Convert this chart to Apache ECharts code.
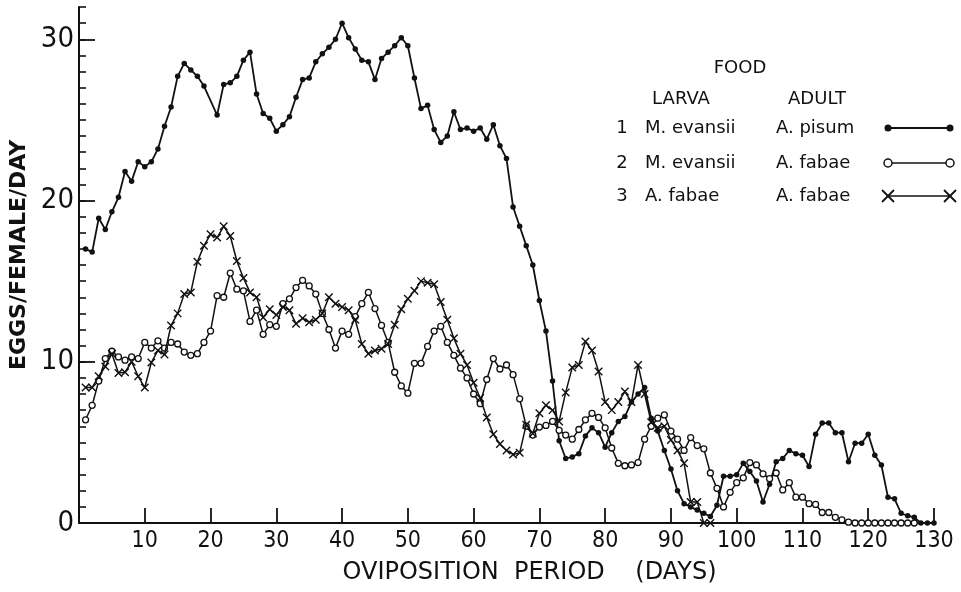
<!DOCTYPE html>
<html><head><meta charset="utf-8">
<script src="https://cdn.jsdelivr.net/npm/echarts@6/dist/echarts.min.js"></script>
<style>html,body{margin:0;padding:0;background:#fff}#c{width:961px;height:592px}</style>
</head><body><div id="c"></div>
<script>
// ---- data ----
const yLabelValues = [0, 10, 20, 30];
// 1: larva M. evansii, adult A. pisum (filled dots)
const s1Days = [1,2,3,4,5,6,7,8,9,10,11,12,13,14,15,16,17,18,19,21,22,23,24,25,26,27,28,29,30,
  31,32,33,34,35,36,37,38,39,40,41,42,43,44,45,46,47,48,49,50,51,52,53,54,55,56,57,58,59,60,
  61,62,63,64,65,66,67,68,69,70,71,72,73,74,75,76,77,78,79,80,81,82,83,84,85,86,87,88,89,90,
  91,92,93,94,95,96,97,98,99,100,101,102,103,104,105,106,107,108,109,110,111,112,113,114,115,
  116,117,118,119,120,121,122,123,124,125,126,127,128,129,130];
const s1Eggs = [17.0,16.8,18.9,18.2,19.3,20.2,21.8,21.2,22.4,22.1,22.4,23.2,24.6,25.8,27.7,28.5,28.1,27.7,27.1,
  25.3,27.2,27.3,27.7,28.7,29.2,26.6,25.4,25.1,24.3,
  24.7,25.2,26.4,27.5,27.6,28.6,29.1,29.5,30.0,31.0,30.1,29.4,28.7,28.6,27.5,28.8,29.2,29.6,30.1,29.6,
  27.6,25.7,25.9,24.4,23.6,24.0,25.5,24.4,24.5,24.3,
  24.5,23.8,24.7,23.4,22.6,19.6,18.4,17.2,16.0,13.8,11.9,8.8,5.1,4.0,4.1,4.3,5.4,5.9,5.6,4.7,
  5.6,6.3,6.6,7.5,8.0,8.4,6.5,5.7,4.5,3.35,
  2.0,1.2,1.0,0.8,0.6,0.4,1.1,2.9,2.9,3.0,3.7,3.2,2.6,1.3,2.4,3.8,4.0,4.5,4.3,4.2,
  3.5,5.5,6.2,6.2,5.6,5.6,3.8,4.95,4.95,5.5,4.2,3.6,1.6,1.5,0.6,0.45,0.35,0,0,0];
// 2: larva M. evansii, adult A. fabae (open circles)
const s2Days = [1,2,3,4,5,6,7,8,9,10,11,12,13,14,15,16,17,18,19,20,21,22,23,24,25,26,27,28,29,30,
  31,32,33,34,35,36,37,38,39,40,41,42,43,44,45,46,47,48,49,50,51,52,53,54,55,56,57,58,59,60,
  61,62,63,64,65,66,67,68,69,70,71,72,73,74,75,76,77,78,79,80,81,82,83,84,85,86,87,88,89,90,
  91,92,93,94,95,96,97,98,99,100,101,102,103,104,105,106,107,108,109,110,111,112,113,114,115,
  116,117,118,119,120,121,122,123,124,125,126,127];
const s2Eggs = [6.4,7.3,8.8,10.2,10.65,10.3,10.1,10.3,10.2,11.2,10.85,11.3,10.85,11.2,11.1,10.6,10.4,10.5,11.2,11.9,
  14.1,14.0,15.5,14.5,14.4,12.5,13.2,11.7,12.3,12.2,
  13.6,13.9,14.6,15.05,14.7,14.2,13.0,12.0,10.85,11.9,11.7,12.8,13.6,14.3,13.3,12.25,11.2,9.35,8.5,8.05,
  9.9,9.9,10.95,11.9,12.2,11.2,10.4,9.6,9.0,8.0,
  7.4,8.9,10.2,9.55,9.8,9.2,7.7,6.0,5.45,5.95,6.05,6.3,5.75,5.45,5.2,5.8,6.4,6.8,6.55,5.9,
  4.65,3.7,3.55,3.6,3.75,5.2,6.0,6.5,6.7,5.7,
  5.2,4.5,5.3,4.8,4.6,3.1,2.15,1.0,1.9,2.5,2.8,3.75,3.6,3.05,2.75,3.1,2.05,2.5,1.6,1.6,
  1.2,1.15,0.65,0.65,0.35,0.2,0.05,0,0,0,0,0,0,0,0,0,0];
// 3: larva A. fabae, adult A. fabae (crosses)
const s3Days = [1,2,3,4,5,6,7,8,9,10,11,12,13,14,15,16,17,18,19,20,21,22,23,24,25,26,27,28,29,30,
  31,32,33,34,35,36,37,38,39,40,41,42,43,44,45,46,47,48,49,50,51,52,53,54,55,56,57,58,59,60,
  61,62,63,64,65,66,67,68,69,70,71,72,73,74,75,76,77,78,79,80,81,82,83,84,85,86,87,88,89,90,
  91,92,93,94,95,96];
const s3Eggs = [8.4,8.4,9.1,9.7,10.5,9.3,9.35,10.0,9.1,8.4,9.95,10.7,10.45,12.25,13.0,14.2,14.3,16.2,17.2,17.9,
  17.7,18.4,17.8,16.25,15.2,14.3,14.0,12.75,13.25,12.9,
  13.4,13.2,12.35,12.7,12.45,12.6,13.0,14.0,13.6,13.4,13.2,12.6,11.1,10.5,10.7,10.8,11.1,12.3,13.25,13.9,
  14.4,15.0,14.9,14.8,13.7,12.6,11.45,10.5,9.8,8.7,
  7.75,6.55,5.5,4.9,4.5,4.25,4.35,6.1,5.55,6.8,7.3,7.0,6.3,8.1,9.65,9.8,11.25,10.7,9.4,7.5,
  7.0,7.5,8.15,7.5,9.8,8.0,6.25,5.9,6.0,5.15,
  4.5,3.7,1.3,1.3,0,0];

const seriesNames = ['1  M. evansii / A. pisum', '2  M. evansii / A. fabae', '3  A. fabae / A. fabae'];
const legendRows = [
  ['1', 'M. evansii', 'A. pisum'],
  ['2', 'M. evansii', 'A. fabae'],
  ['3', 'A. fabae', 'A. fabae']
];

const pairs = (d, v) => d.map((x, i) => [x, v[i]]);
const INK = '#111';
const FONT = '"DejaVu Sans", "Noto Sans", sans-serif';
const COND = '"DejaVu Sans Condensed", "DejaVu Sans", sans-serif';

// ---- legend drawn as decoration ----
const g = [];
const txt = (t, x, y, align) => ({type: 'text', silent: true,
  style: {text: t, x: x, y: y, font: '18px ' + FONT, fill: INK, align: align || 'left', verticalAlign: 'middle'}});
g.push(txt('FOOD', 740, 68, 'center'));
g.push(txt('LARVA', 681, 99, 'center'));
g.push(txt('ADULT', 817, 99, 'center'));
const rowY = [128, 163, 196];
legendRows.forEach((r, i) => {
  g.push(txt(r[0], 622, rowY[i], 'center'));
  g.push(txt(r[1], 645, rowY[i]));
  g.push(txt(r[2], 776, rowY[i]));
});
const kx1 = 888, kx2 = 950;
g.push({type: 'line', silent: true, shape: {x1: kx1, y1: rowY[0], x2: kx2, y2: rowY[0]}, style: {stroke: INK, lineWidth: 1.8}});
g.push({type: 'circle', silent: true, shape: {cx: kx1, cy: rowY[0], r: 3.5}, style: {fill: INK}});
g.push({type: 'circle', silent: true, shape: {cx: kx2, cy: rowY[0], r: 3.5}, style: {fill: INK}});
g.push({type: 'line', silent: true, shape: {x1: kx1 + 4, y1: rowY[1], x2: kx2 - 4, y2: rowY[1]}, style: {stroke: INK, lineWidth: 1.6}});
g.push({type: 'circle', silent: true, shape: {cx: kx1, cy: rowY[1], r: 4}, style: {fill: '#fff', stroke: INK, lineWidth: 1.5}});
g.push({type: 'circle', silent: true, shape: {cx: kx2, cy: rowY[1], r: 4}, style: {fill: '#fff', stroke: INK, lineWidth: 1.5}});
g.push({type: 'line', silent: true, shape: {x1: kx1, y1: rowY[2], x2: kx2, y2: rowY[2]}, style: {stroke: INK, lineWidth: 1.4}});
[kx1, kx2].forEach(cx => {
  g.push({type: 'line', silent: true, shape: {x1: cx - 6, y1: rowY[2] - 6, x2: cx + 6, y2: rowY[2] + 6}, style: {stroke: INK, lineWidth: 1.8}});
  g.push({type: 'line', silent: true, shape: {x1: cx - 6, y1: rowY[2] + 6, x2: cx + 6, y2: rowY[2] - 6}, style: {stroke: INK, lineWidth: 1.8}});
});

const chart = echarts.init(document.getElementById('c'), null, {renderer: 'canvas'});
chart.setOption({
  animation: false,
  backgroundColor: '#fff',
  grid: {left: 79, right: 27, top: 7, bottom: 69, containLabel: false, outerBoundsMode: 'none'},
  xAxis: {
    type: 'value', min: 0, max: 130, interval: 10,
    name: 'OVIPOSITION  PERIOD    (DAYS)', nameLocation: 'middle', nameGap: 38,
    nameTextStyle: {fontFamily: FONT, fontSize: 24, color: INK, padding: [0, 0, 0, 46]},
    axisLine: {show: true, onZero: false, lineStyle: {color: INK, width: 2}},
    axisTick: {show: true, inside: true, length: 15, lineStyle: {color: INK, width: 1.8}},
    axisLabel: {fontFamily: COND, fontSize: 23, color: INK, margin: 7,
      formatter: v => (v === 0 ? '' : String(v))},
    splitLine: {show: false}
  },
  yAxis: [{
    type: 'value', min: 0, max: 32,
    name: 'EGGS/FEMALE/DAY', nameLocation: 'middle', nameGap: 48,
    nameTextStyle: {fontFamily: FONT, fontSize: 22, fontWeight: 'bold', color: INK, padding: [0, 0, 0, 20]},
    axisLine: {show: true, onZero: false, lineStyle: {color: INK, width: 2}},
    axisTick: {show: true, inside: true, length: 16, customValues: yLabelValues, lineStyle: {color: INK, width: 1.8}},
    axisLabel: {fontFamily: COND, fontSize: 29, color: INK, margin: 5, customValues: yLabelValues},
    splitLine: {show: false}
  }, {
    type: 'value', min: 0, max: 32, interval: 1, position: 'left', offset: 0,
    axisLine: {show: false},
    axisTick: {show: true, inside: true, length: 7, lineStyle: {color: INK, width: 1.6}},
    axisLabel: {show: false},
    splitLine: {show: false}
  }],
  graphic: g,
  series: [{
    name: seriesNames[0], type: 'line', data: pairs(s1Days, s1Eggs),
    symbol: 'circle', symbolSize: 5.5, lineStyle: {color: INK, width: 1.8},
    itemStyle: {color: INK}, z: 3
  }, {
    name: seriesNames[1], type: 'line', data: pairs(s2Days, s2Eggs),
    symbol: 'circle', symbolSize: 6, lineStyle: {color: INK, width: 1.5},
    itemStyle: {color: '#fff', borderColor: INK, borderWidth: 1.3}, z: 4
  }, {
    name: seriesNames[2], type: 'line', data: pairs(s3Days, s3Eggs),
    symbol: 'path://M0,0L10,10M10,0L0,10', symbolSize: 7.5, lineStyle: {color: INK, width: 1.5},
    itemStyle: {color: 'rgba(0,0,0,0)', borderColor: INK, borderWidth: 1.4}, z: 5
  }]
});
</script></body></html>
